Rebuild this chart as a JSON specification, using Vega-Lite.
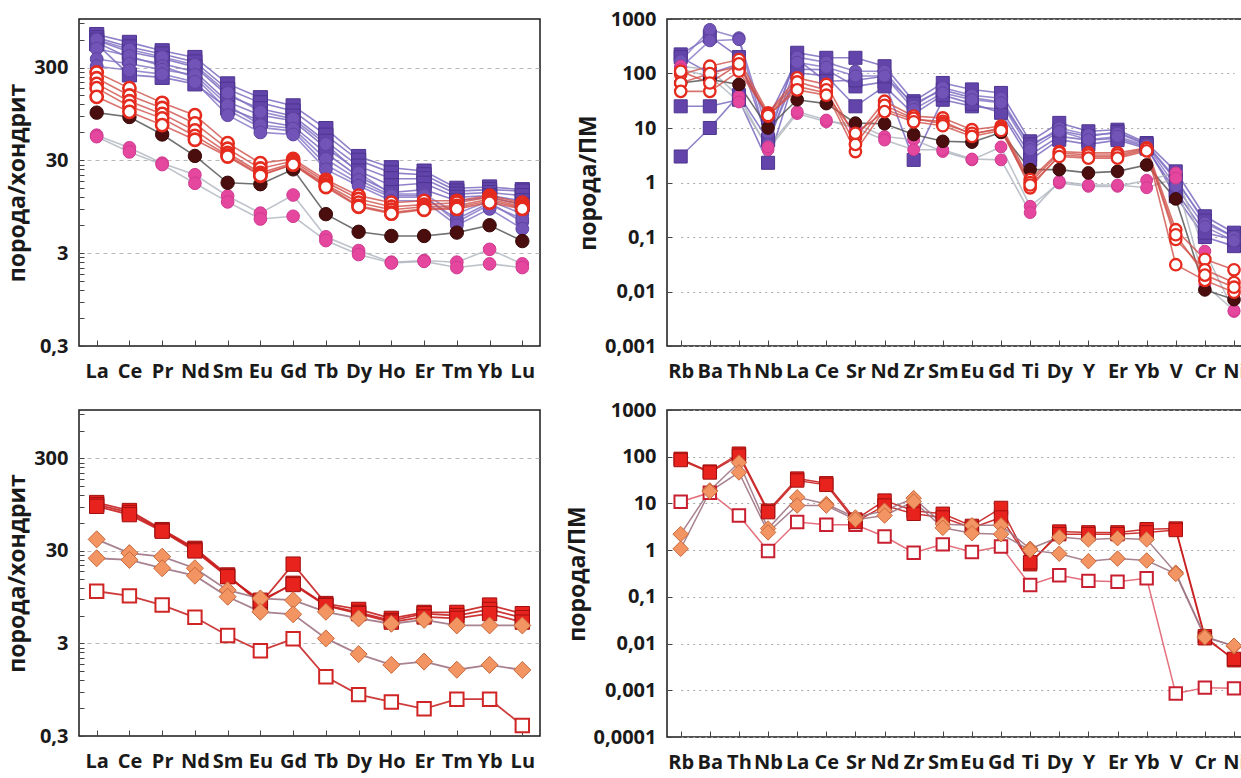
{
"$schema": "https://vega.github.io/schema/vega-lite/v6.json",
"background": "#ffffff",
"padding": {"left": 5, "top": 8, "right": 0, "bottom": 0},
"autosize": {"type": "pad"},
"config": {
  "view": {"stroke": "#1a1a1a", "strokeWidth": 1.5},
  "axis": {"labelFont": "Open Sans", "labelFontWeight": "bold", "labelColor": "#1a1a1a", "titleFont": "Open Sans", "titleFontWeight": "bold", "titleColor": "#1a1a1a", "tickColor": "#444444", "domain": false, "labelOverlap": false}
},
"resolve": {"scale": {"color": "independent", "fill": "independent", "stroke": "independent", "shape": "independent", "size": "independent", "strokeWidth": "independent", "x": "independent", "y": "independent"}},
"datasets": {
"tl": [
{"s":"Q1","g":"sq","e":"La","v":680},{"s":"Q1","g":"sq","e":"Ce","v":560},{"s":"Q1","g":"sq","e":"Pr","v":455},{"s":"Q1","g":"sq","e":"Nd","v":385},{"s":"Q1","g":"sq","e":"Sm","v":200},{"s":"Q1","g":"sq","e":"Eu","v":142},{"s":"Q1","g":"sq","e":"Gd","v":116},{"s":"Q1","g":"sq","e":"Tb","v":66},{"s":"Q1","g":"sq","e":"Dy","v":33},{"s":"Q1","g":"sq","e":"Ho","v":25},{"s":"Q1","g":"sq","e":"Er","v":23},{"s":"Q1","g":"sq","e":"Tm","v":15},{"s":"Q1","g":"sq","e":"Yb","v":15.5},{"s":"Q1","g":"sq","e":"Lu","v":14.5},
{"s":"Q2","g":"sq","e":"La","v":630},{"s":"Q2","g":"sq","e":"Ce","v":500},{"s":"Q2","g":"sq","e":"Pr","v":420},{"s":"Q2","g":"sq","e":"Nd","v":345},{"s":"Q2","g":"sq","e":"Sm","v":175},{"s":"Q2","g":"sq","e":"Eu","v":125},{"s":"Q2","g":"sq","e":"Gd","v":102},{"s":"Q2","g":"sq","e":"Tb","v":56},{"s":"Q2","g":"sq","e":"Dy","v":30},{"s":"Q2","g":"sq","e":"Ho","v":22},{"s":"Q2","g":"sq","e":"Er","v":21},{"s":"Q2","g":"sq","e":"Tm","v":14},{"s":"Q2","g":"sq","e":"Yb","v":14.5},{"s":"Q2","g":"sq","e":"Lu","v":14},
{"s":"Q3","g":"sq","e":"La","v":590},{"s":"Q3","g":"sq","e":"Ce","v":440},{"s":"Q3","g":"sq","e":"Pr","v":375},{"s":"Q3","g":"sq","e":"Nd","v":305},{"s":"Q3","g":"sq","e":"Sm","v":150},{"s":"Q3","g":"sq","e":"Eu","v":108},{"s":"Q3","g":"sq","e":"Gd","v":90},{"s":"Q3","g":"sq","e":"Tb","v":48},{"s":"Q3","g":"sq","e":"Dy","v":26},{"s":"Q3","g":"sq","e":"Ho","v":19},{"s":"Q3","g":"sq","e":"Er","v":19},{"s":"Q3","g":"sq","e":"Tm","v":13},{"s":"Q3","g":"sq","e":"Yb","v":13.5},{"s":"Q3","g":"sq","e":"Lu","v":12.5},
{"s":"Q4","g":"sq","e":"La","v":560},{"s":"Q4","g":"sq","e":"Ce","v":380},{"s":"Q4","g":"sq","e":"Pr","v":330},{"s":"Q4","g":"sq","e":"Nd","v":270},{"s":"Q4","g":"sq","e":"Sm","v":128},{"s":"Q4","g":"sq","e":"Eu","v":92},{"s":"Q4","g":"sq","e":"Gd","v":80},{"s":"Q4","g":"sq","e":"Tb","v":41},{"s":"Q4","g":"sq","e":"Dy","v":23},{"s":"Q4","g":"sq","e":"Ho","v":16},{"s":"Q4","g":"sq","e":"Er","v":17},{"s":"Q4","g":"sq","e":"Tm","v":12},{"s":"Q4","g":"sq","e":"Yb","v":12.5},{"s":"Q4","g":"sq","e":"Lu","v":11},
{"s":"Q5","g":"sq","e":"La","v":540},{"s":"Q5","g":"sq","e":"Ce","v":250},{"s":"Q5","g":"sq","e":"Pr","v":235},{"s":"Q5","g":"sq","e":"Nd","v":200},{"s":"Q5","g":"sq","e":"Sm","v":110},{"s":"Q5","g":"sq","e":"Eu","v":80},{"s":"Q5","g":"sq","e":"Gd","v":70},{"s":"Q5","g":"sq","e":"Tb","v":36},{"s":"Q5","g":"sq","e":"Dy","v":20},{"s":"Q5","g":"sq","e":"Ho","v":13.5},{"s":"Q5","g":"sq","e":"Er","v":14.5},{"s":"Q5","g":"sq","e":"Tm","v":11},{"s":"Q5","g":"sq","e":"Yb","v":12},{"s":"Q5","g":"sq","e":"Lu","v":10},
{"s":"K1","g":"ci","e":"La","v":600},{"s":"K1","g":"ci","e":"Ce","v":470},{"s":"K1","g":"ci","e":"Pr","v":390},{"s":"K1","g":"ci","e":"Nd","v":320},{"s":"K1","g":"ci","e":"Sm","v":160},{"s":"K1","g":"ci","e":"Eu","v":100},{"s":"K1","g":"ci","e":"Gd","v":84},{"s":"K1","g":"ci","e":"Tb","v":45},{"s":"K1","g":"ci","e":"Dy","v":22},{"s":"K1","g":"ci","e":"Ho","v":13},{"s":"K1","g":"ci","e":"Er","v":13},{"s":"K1","g":"ci","e":"Tm","v":8},{"s":"K1","g":"ci","e":"Yb","v":11},{"s":"K1","g":"ci","e":"Lu","v":8},
{"s":"K2","g":"ci","e":"La","v":480},{"s":"K2","g":"ci","e":"Ce","v":400},{"s":"K2","g":"ci","e":"Pr","v":310},{"s":"K2","g":"ci","e":"Nd","v":235},{"s":"K2","g":"ci","e":"Sm","v":105},{"s":"K2","g":"ci","e":"Eu","v":68},{"s":"K2","g":"ci","e":"Gd","v":62},{"s":"K2","g":"ci","e":"Tb","v":27},{"s":"K2","g":"ci","e":"Dy","v":17},{"s":"K2","g":"ci","e":"Ho","v":12},{"s":"K2","g":"ci","e":"Er","v":12},{"s":"K2","g":"ci","e":"Tm","v":7},{"s":"K2","g":"ci","e":"Yb","v":10.5},{"s":"K2","g":"ci","e":"Lu","v":6.5},
{"s":"K3","g":"ci","e":"La","v":370},{"s":"K3","g":"ci","e":"Ce","v":330},{"s":"K3","g":"ci","e":"Pr","v":285},{"s":"K3","g":"ci","e":"Nd","v":250},{"s":"K3","g":"ci","e":"Sm","v":118},{"s":"K3","g":"ci","e":"Eu","v":72},{"s":"K3","g":"ci","e":"Gd","v":66},{"s":"K3","g":"ci","e":"Tb","v":31},{"s":"K3","g":"ci","e":"Dy","v":18.5},{"s":"K3","g":"ci","e":"Ho","v":12.5},{"s":"K3","g":"ci","e":"Er","v":12.5},{"s":"K3","g":"ci","e":"Tm","v":6.5},{"s":"K3","g":"ci","e":"Yb","v":10},{"s":"K3","g":"ci","e":"Lu","v":7},
{"s":"K4","g":"ci","e":"La","v":310},{"s":"K4","g":"ci","e":"Ce","v":280},{"s":"K4","g":"ci","e":"Pr","v":255},{"s":"K4","g":"ci","e":"Nd","v":210},{"s":"K4","g":"ci","e":"Sm","v":92},{"s":"K4","g":"ci","e":"Eu","v":60},{"s":"K4","g":"ci","e":"Gd","v":57},{"s":"K4","g":"ci","e":"Tb","v":24},{"s":"K4","g":"ci","e":"Dy","v":16},{"s":"K4","g":"ci","e":"Ho","v":11},{"s":"K4","g":"ci","e":"Er","v":11},{"s":"K4","g":"ci","e":"Tm","v":6},{"s":"K4","g":"ci","e":"Yb","v":9},{"s":"K4","g":"ci","e":"Lu","v":5.5},
{"s":"N1","g":"pk","e":"La","v":56},{"s":"N1","g":"pk","e":"Ce","v":41},{"s":"N1","g":"pk","e":"Pr","v":28},{"s":"N1","g":"pk","e":"Nd","v":21},{"s":"N1","g":"pk","e":"Sm","v":12.4},{"s":"N1","g":"pk","e":"Eu","v":8.1},{"s":"N1","g":"pk","e":"Gd","v":12.7},{"s":"N1","g":"pk","e":"Tb","v":4.5},{"s":"N1","g":"pk","e":"Dy","v":3.2},{"s":"N1","g":"pk","e":"Ho","v":2.4},{"s":"N1","g":"pk","e":"Er","v":2.5},{"s":"N1","g":"pk","e":"Tm","v":2.4},{"s":"N1","g":"pk","e":"Yb","v":3.3},{"s":"N1","g":"pk","e":"Lu","v":2.3},
{"s":"N2","g":"pk","e":"La","v":54},{"s":"N2","g":"pk","e":"Ce","v":37},{"s":"N2","g":"pk","e":"Pr","v":27},{"s":"N2","g":"pk","e":"Nd","v":17},{"s":"N2","g":"pk","e":"Sm","v":10.7},{"s":"N2","g":"pk","e":"Eu","v":7.0},{"s":"N2","g":"pk","e":"Gd","v":7.5},{"s":"N2","g":"pk","e":"Tb","v":4.1},{"s":"N2","g":"pk","e":"Dy","v":2.9},{"s":"N2","g":"pk","e":"Ho","v":2.35},{"s":"N2","g":"pk","e":"Er","v":2.45},{"s":"N2","g":"pk","e":"Tm","v":2.1},{"s":"N2","g":"pk","e":"Yb","v":2.3},{"s":"N2","g":"pk","e":"Lu","v":2.1},
{"s":"B1","g":"br","e":"La","v":98},{"s":"B1","g":"br","e":"Ce","v":88},{"s":"B1","g":"br","e":"Pr","v":57},{"s":"B1","g":"br","e":"Nd","v":33.5},{"s":"B1","g":"br","e":"Sm","v":17.2},{"s":"B1","g":"br","e":"Eu","v":16.6},{"s":"B1","g":"br","e":"Gd","v":24},{"s":"B1","g":"br","e":"Tb","v":7.9},{"s":"B1","g":"br","e":"Dy","v":5.1},{"s":"B1","g":"br","e":"Ho","v":4.6},{"s":"B1","g":"br","e":"Er","v":4.6},{"s":"B1","g":"br","e":"Tm","v":5.0},{"s":"B1","g":"br","e":"Yb","v":6.0},{"s":"B1","g":"br","e":"Lu","v":4.05},
{"s":"R1","g":"ro","e":"La","v":265},{"s":"R1","g":"ro","e":"Ce","v":180},{"s":"R1","g":"ro","e":"Pr","v":125},{"s":"R1","g":"ro","e":"Nd","v":92},{"s":"R1","g":"ro","e":"Sm","v":46},{"s":"R1","g":"ro","e":"Eu","v":28},{"s":"R1","g":"ro","e":"Gd","v":31},{"s":"R1","g":"ro","e":"Tb","v":18.5},{"s":"R1","g":"ro","e":"Dy","v":12.5},{"s":"R1","g":"ro","e":"Ho","v":10.5},{"s":"R1","g":"ro","e":"Er","v":11},{"s":"R1","g":"ro","e":"Tm","v":11},{"s":"R1","g":"ro","e":"Yb","v":12.5},{"s":"R1","g":"ro","e":"Lu","v":10.5},
{"s":"R2","g":"ro","e":"La","v":230},{"s":"R2","g":"ro","e":"Ce","v":150},{"s":"R2","g":"ro","e":"Pr","v":110},{"s":"R2","g":"ro","e":"Nd","v":75},{"s":"R2","g":"ro","e":"Sm","v":40},{"s":"R2","g":"ro","e":"Eu","v":24.5},{"s":"R2","g":"ro","e":"Gd","v":29.5},{"s":"R2","g":"ro","e":"Tb","v":17.5},{"s":"R2","g":"ro","e":"Dy","v":11.5},{"s":"R2","g":"ro","e":"Ho","v":9.5},{"s":"R2","g":"ro","e":"Er","v":10},{"s":"R2","g":"ro","e":"Tm","v":10.5},{"s":"R2","g":"ro","e":"Yb","v":12},{"s":"R2","g":"ro","e":"Lu","v":10},
{"s":"R3","g":"ro","e":"La","v":200},{"s":"R3","g":"ro","e":"Ce","v":130},{"s":"R3","g":"ro","e":"Pr","v":95},{"s":"R3","g":"ro","e":"Nd","v":63},{"s":"R3","g":"ro","e":"Sm","v":36},{"s":"R3","g":"ro","e":"Eu","v":22},{"s":"R3","g":"ro","e":"Gd","v":28},{"s":"R3","g":"ro","e":"Tb","v":16.5},{"s":"R3","g":"ro","e":"Dy","v":10.5},{"s":"R3","g":"ro","e":"Ho","v":8.8},{"s":"R3","g":"ro","e":"Er","v":9.5},{"s":"R3","g":"ro","e":"Tm","v":9.7},{"s":"R3","g":"ro","e":"Yb","v":11.5},{"s":"R3","g":"ro","e":"Lu","v":9.5},
{"s":"R4","g":"ro","e":"La","v":180},{"s":"R4","g":"ro","e":"Ce","v":115},{"s":"R4","g":"ro","e":"Pr","v":85},{"s":"R4","g":"ro","e":"Nd","v":55},{"s":"R4","g":"ro","e":"Sm","v":34},{"s":"R4","g":"ro","e":"Eu","v":21},{"s":"R4","g":"ro","e":"Gd","v":27},{"s":"R4","g":"ro","e":"Tb","v":16},{"s":"R4","g":"ro","e":"Dy","v":9.7},{"s":"R4","g":"ro","e":"Ho","v":8.2},{"s":"R4","g":"ro","e":"Er","v":9},{"s":"R4","g":"ro","e":"Tm","v":9.3},{"s":"R4","g":"ro","e":"Yb","v":11},{"s":"R4","g":"ro","e":"Lu","v":9.2},
{"s":"R5","g":"ro","e":"La","v":145},{"s":"R5","g":"ro","e":"Ce","v":100},{"s":"R5","g":"ro","e":"Pr","v":72},{"s":"R5","g":"ro","e":"Nd","v":50},{"s":"R5","g":"ro","e":"Sm","v":33},{"s":"R5","g":"ro","e":"Eu","v":20.5},{"s":"R5","g":"ro","e":"Gd","v":27},{"s":"R5","g":"ro","e":"Tb","v":15.5},{"s":"R5","g":"ro","e":"Dy","v":9.5},{"s":"R5","g":"ro","e":"Ho","v":8},{"s":"R5","g":"ro","e":"Er","v":8.8},{"s":"R5","g":"ro","e":"Tm","v":9},{"s":"R5","g":"ro","e":"Yb","v":10.5},{"s":"R5","g":"ro","e":"Lu","v":9}
],
"tr": [
{"s":"P1","g":"sq","e":"Rb","v":224},{"s":"P1","g":"sq","e":"Ba","v":480},{"s":"P1","g":"sq","e":"Th","v":200},{"s":"P1","g":"sq","e":"Nb","v":6},{"s":"P1","g":"sq","e":"La","v":240},{"s":"P1","g":"sq","e":"Ce","v":194},{"s":"P1","g":"sq","e":"Sr","v":194},{"s":"P1","g":"sq","e":"Nd","v":136},{"s":"P1","g":"sq","e":"Zr","v":31},{"s":"P1","g":"sq","e":"Sm","v":67},{"s":"P1","g":"sq","e":"Eu","v":51},{"s":"P1","g":"sq","e":"Gd","v":44},{"s":"P1","g":"sq","e":"Ti","v":5.7},{"s":"P1","g":"sq","e":"Dy","v":12.4},{"s":"P1","g":"sq","e":"Y","v":8.7},{"s":"P1","g":"sq","e":"Er","v":9.3},{"s":"P1","g":"sq","e":"Yb","v":5.3},{"s":"P1","g":"sq","e":"V","v":1.6},{"s":"P1","g":"sq","e":"Cr","v":0.24},{"s":"P1","g":"sq","e":"Ni","v":0.12},
{"s":"P4","g":"sq","e":"Rb","v":25},{"s":"P4","g":"sq","e":"Ba","v":25},{"s":"P4","g":"sq","e":"Th","v":33},{"s":"P4","g":"sq","e":"Nb","v":2.3},{"s":"P4","g":"sq","e":"La","v":120},{"s":"P4","g":"sq","e":"Ce","v":118},{"s":"P4","g":"sq","e":"Sr","v":58},{"s":"P4","g":"sq","e":"Nd","v":70},{"s":"P4","g":"sq","e":"Zr","v":2.6},{"s":"P4","g":"sq","e":"Sm","v":33},{"s":"P4","g":"sq","e":"Eu","v":25},{"s":"P4","g":"sq","e":"Gd","v":22},{"s":"P4","g":"sq","e":"Ti","v":3.2},{"s":"P4","g":"sq","e":"Dy","v":7},{"s":"P4","g":"sq","e":"Y","v":6},{"s":"P4","g":"sq","e":"Er","v":6.5},{"s":"P4","g":"sq","e":"Yb","v":4.5},{"s":"P4","g":"sq","e":"V","v":0.56},{"s":"P4","g":"sq","e":"Cr","v":0.1},{"s":"P4","g":"sq","e":"Ni","v":0.068},
{"s":"P5","g":"sq","e":"Rb","v":3},{"s":"P5","g":"sq","e":"Ba","v":10},{"s":"P5","g":"sq","e":"Th","v":40},{"s":"P5","g":"sq","e":"Nb","v":6},{"s":"P5","g":"sq","e":"La","v":103},{"s":"P5","g":"sq","e":"Ce","v":90},{"s":"P5","g":"sq","e":"Sr","v":25},{"s":"P5","g":"sq","e":"Nd","v":58},{"s":"P5","g":"sq","e":"Zr","v":18},{"s":"P5","g":"sq","e":"Sm","v":40},{"s":"P5","g":"sq","e":"Eu","v":28},{"s":"P5","g":"sq","e":"Gd","v":19},{"s":"P5","g":"sq","e":"Ti","v":2.6},{"s":"P5","g":"sq","e":"Dy","v":6.1},{"s":"P5","g":"sq","e":"Y","v":5},{"s":"P5","g":"sq","e":"Er","v":6},{"s":"P5","g":"sq","e":"Yb","v":4.2},{"s":"P5","g":"sq","e":"V","v":0.7},{"s":"P5","g":"sq","e":"Cr","v":0.12},{"s":"P5","g":"sq","e":"Ni","v":0.09},
{"s":"P6","g":"sq","e":"Rb","v":200},{"s":"P6","g":"sq","e":"Ba","v":100},{"s":"P6","g":"sq","e":"Th","v":150},{"s":"P6","g":"sq","e":"Nb","v":15},{"s":"P6","g":"sq","e":"La","v":180},{"s":"P6","g":"sq","e":"Ce","v":72},{"s":"P6","g":"sq","e":"Sr","v":75},{"s":"P6","g":"sq","e":"Nd","v":89},{"s":"P6","g":"sq","e":"Zr","v":28},{"s":"P6","g":"sq","e":"Sm","v":50},{"s":"P6","g":"sq","e":"Eu","v":36},{"s":"P6","g":"sq","e":"Gd","v":30},{"s":"P6","g":"sq","e":"Ti","v":5},{"s":"P6","g":"sq","e":"Dy","v":9},{"s":"P6","g":"sq","e":"Y","v":7},{"s":"P6","g":"sq","e":"Er","v":8.5},{"s":"P6","g":"sq","e":"Yb","v":5},{"s":"P6","g":"sq","e":"V","v":1.1},{"s":"P6","g":"sq","e":"Cr","v":0.2},{"s":"P6","g":"sq","e":"Ni","v":0.1},
{"s":"P2","g":"ci","e":"Rb","v":170},{"s":"P2","g":"ci","e":"Ba","v":640},{"s":"P2","g":"ci","e":"Th","v":450},{"s":"P2","g":"ci","e":"Nb","v":8},{"s":"P2","g":"ci","e":"La","v":200},{"s":"P2","g":"ci","e":"Ce","v":160},{"s":"P2","g":"ci","e":"Sr","v":110},{"s":"P2","g":"ci","e":"Nd","v":110},{"s":"P2","g":"ci","e":"Zr","v":25},{"s":"P2","g":"ci","e":"Sm","v":55},{"s":"P2","g":"ci","e":"Eu","v":40},{"s":"P2","g":"ci","e":"Gd","v":35},{"s":"P2","g":"ci","e":"Ti","v":4.5},{"s":"P2","g":"ci","e":"Dy","v":10},{"s":"P2","g":"ci","e":"Y","v":7.5},{"s":"P2","g":"ci","e":"Er","v":8},{"s":"P2","g":"ci","e":"Yb","v":5},{"s":"P2","g":"ci","e":"V","v":1.2},{"s":"P2","g":"ci","e":"Cr","v":0.18},{"s":"P2","g":"ci","e":"Ni","v":0.1},
{"s":"P3","g":"ci","e":"Rb","v":130},{"s":"P3","g":"ci","e":"Ba","v":400},{"s":"P3","g":"ci","e":"Th","v":420},{"s":"P3","g":"ci","e":"Nb","v":5},{"s":"P3","g":"ci","e":"La","v":160},{"s":"P3","g":"ci","e":"Ce","v":130},{"s":"P3","g":"ci","e":"Sr","v":90},{"s":"P3","g":"ci","e":"Nd","v":90},{"s":"P3","g":"ci","e":"Zr","v":22},{"s":"P3","g":"ci","e":"Sm","v":44},{"s":"P3","g":"ci","e":"Eu","v":33},{"s":"P3","g":"ci","e":"Gd","v":29},{"s":"P3","g":"ci","e":"Ti","v":4},{"s":"P3","g":"ci","e":"Dy","v":8.7},{"s":"P3","g":"ci","e":"Y","v":6.1},{"s":"P3","g":"ci","e":"Er","v":7},{"s":"P3","g":"ci","e":"Yb","v":4.8},{"s":"P3","g":"ci","e":"V","v":0.85},{"s":"P3","g":"ci","e":"Cr","v":0.155},{"s":"P3","g":"ci","e":"Ni","v":0.085},
{"s":"N1","g":"pk","e":"Rb","v":136},{"s":"N1","g":"pk","e":"Ba","v":118},{"s":"N1","g":"pk","e":"Th","v":38},{"s":"N1","g":"pk","e":"Nb","v":4},{"s":"N1","g":"pk","e":"La","v":18.4},{"s":"N1","g":"pk","e":"Ce","v":13},{"s":"N1","g":"pk","e":"Sr","v":12},{"s":"N1","g":"pk","e":"Nd","v":7},{"s":"N1","g":"pk","e":"Zr","v":6.1},{"s":"N1","g":"pk","e":"Sm","v":3.7},{"s":"N1","g":"pk","e":"Eu","v":2.6},{"s":"N1","g":"pk","e":"Gd","v":4.5},{"s":"N1","g":"pk","e":"Ti","v":0.366},{"s":"N1","g":"pk","e":"Dy","v":0.98},{"s":"N1","g":"pk","e":"Y","v":0.85},{"s":"N1","g":"pk","e":"Er","v":0.85},{"s":"N1","g":"pk","e":"Yb","v":1.1},{"s":"N1","g":"pk","e":"V","v":1.5},{"s":"N1","g":"pk","e":"Cr","v":0.055},{"s":"N1","g":"pk","e":"Ni","v":0.0043},
{"s":"N2","g":"pk","e":"Rb","v":120},{"s":"N2","g":"pk","e":"Ba","v":89},{"s":"N2","g":"pk","e":"Th","v":30},{"s":"N2","g":"pk","e":"Nb","v":4.5},{"s":"N2","g":"pk","e":"La","v":20},{"s":"N2","g":"pk","e":"Ce","v":14},{"s":"N2","g":"pk","e":"Sr","v":10},{"s":"N2","g":"pk","e":"Nd","v":6},{"s":"N2","g":"pk","e":"Zr","v":4},{"s":"N2","g":"pk","e":"Sm","v":4},{"s":"N2","g":"pk","e":"Eu","v":2.7},{"s":"N2","g":"pk","e":"Gd","v":2.6},{"s":"N2","g":"pk","e":"Ti","v":0.28},{"s":"N2","g":"pk","e":"Dy","v":1.05},{"s":"N2","g":"pk","e":"Y","v":0.9},{"s":"N2","g":"pk","e":"Er","v":0.9},{"s":"N2","g":"pk","e":"Yb","v":0.8},{"s":"N2","g":"pk","e":"V","v":1.2},{"s":"N2","g":"pk","e":"Cr","v":0.0133},{"s":"N2","g":"pk","e":"Ni","v":0.0045},
{"s":"B1","g":"br","e":"Rb","v":67},{"s":"B1","g":"br","e":"Ba","v":78},{"s":"B1","g":"br","e":"Th","v":63},{"s":"B1","g":"br","e":"Nb","v":10},{"s":"B1","g":"br","e":"La","v":33},{"s":"B1","g":"br","e":"Ce","v":28},{"s":"B1","g":"br","e":"Sr","v":12.3},{"s":"B1","g":"br","e":"Nd","v":12},{"s":"B1","g":"br","e":"Zr","v":7.6},{"s":"B1","g":"br","e":"Sm","v":5.7},{"s":"B1","g":"br","e":"Eu","v":5.5},{"s":"B1","g":"br","e":"Gd","v":8.3},{"s":"B1","g":"br","e":"Ti","v":1.72},{"s":"B1","g":"br","e":"Dy","v":1.72},{"s":"B1","g":"br","e":"Y","v":1.5},{"s":"B1","g":"br","e":"Er","v":1.6},{"s":"B1","g":"br","e":"Yb","v":2.1},{"s":"B1","g":"br","e":"V","v":0.5},{"s":"B1","g":"br","e":"Cr","v":0.0107},{"s":"B1","g":"br","e":"Ni","v":0.0071},
{"s":"R1","g":"ro","e":"Rb","v":96},{"s":"R1","g":"ro","e":"Ba","v":136},{"s":"R1","g":"ro","e":"Th","v":180},{"s":"R1","g":"ro","e":"Nb","v":19},{"s":"R1","g":"ro","e":"La","v":83},{"s":"R1","g":"ro","e":"Ce","v":63},{"s":"R1","g":"ro","e":"Sr","v":6.6},{"s":"R1","g":"ro","e":"Nd","v":31},{"s":"R1","g":"ro","e":"Zr","v":16.5},{"s":"R1","g":"ro","e":"Sm","v":15.3},{"s":"R1","g":"ro","e":"Eu","v":9.3},{"s":"R1","g":"ro","e":"Gd","v":10.8},{"s":"R1","g":"ro","e":"Ti","v":1.13},{"s":"R1","g":"ro","e":"Dy","v":3.7},{"s":"R1","g":"ro","e":"Y","v":3.5},{"s":"R1","g":"ro","e":"Er","v":3.5},{"s":"R1","g":"ro","e":"Yb","v":4.3},{"s":"R1","g":"ro","e":"V","v":0.136},{"s":"R1","g":"ro","e":"Cr","v":0.039},{"s":"R1","g":"ro","e":"Ni","v":0.025},
{"s":"R2","g":"ro","e":"Rb","v":67},{"s":"R2","g":"ro","e":"Ba","v":100},{"s":"R2","g":"ro","e":"Th","v":136},{"s":"R2","g":"ro","e":"Nb","v":16.5},{"s":"R2","g":"ro","e":"La","v":58},{"s":"R2","g":"ro","e":"Ce","v":44},{"s":"R2","g":"ro","e":"Sr","v":3.7},{"s":"R2","g":"ro","e":"Nd","v":22},{"s":"R2","g":"ro","e":"Zr","v":14.3},{"s":"R2","g":"ro","e":"Sm","v":13.3},{"s":"R2","g":"ro","e":"Eu","v":7.6},{"s":"R2","g":"ro","e":"Gd","v":10},{"s":"R2","g":"ro","e":"Ti","v":0.8},{"s":"R2","g":"ro","e":"Dy","v":3.2},{"s":"R2","g":"ro","e":"Y","v":3.0},{"s":"R2","g":"ro","e":"Er","v":3.0},{"s":"R2","g":"ro","e":"Yb","v":4.0},{"s":"R2","g":"ro","e":"V","v":0.09},{"s":"R2","g":"ro","e":"Cr","v":0.025},{"s":"R2","g":"ro","e":"Ni","v":0.0146},
{"s":"R3","g":"ro","e":"Rb","v":47},{"s":"R3","g":"ro","e":"Ba","v":47},{"s":"R3","g":"ro","e":"Th","v":110},{"s":"R3","g":"ro","e":"Nb","v":18},{"s":"R3","g":"ro","e":"La","v":70},{"s":"R3","g":"ro","e":"Ce","v":50},{"s":"R3","g":"ro","e":"Sr","v":5},{"s":"R3","g":"ro","e":"Nd","v":26},{"s":"R3","g":"ro","e":"Zr","v":15},{"s":"R3","g":"ro","e":"Sm","v":12},{"s":"R3","g":"ro","e":"Eu","v":8},{"s":"R3","g":"ro","e":"Gd","v":9.5},{"s":"R3","g":"ro","e":"Ti","v":1.0},{"s":"R3","g":"ro","e":"Dy","v":3.5},{"s":"R3","g":"ro","e":"Y","v":3.2},{"s":"R3","g":"ro","e":"Er","v":3.2},{"s":"R3","g":"ro","e":"Yb","v":4.2},{"s":"R3","g":"ro","e":"V","v":0.031},{"s":"R3","g":"ro","e":"Cr","v":0.016},{"s":"R3","g":"ro","e":"Ni","v":0.0097},
{"s":"R4","g":"ro","e":"Rb","v":110},{"s":"R4","g":"ro","e":"Ba","v":67},{"s":"R4","g":"ro","e":"Th","v":150},{"s":"R4","g":"ro","e":"Nb","v":17},{"s":"R4","g":"ro","e":"La","v":50},{"s":"R4","g":"ro","e":"Ce","v":40},{"s":"R4","g":"ro","e":"Sr","v":8},{"s":"R4","g":"ro","e":"Nd","v":20},{"s":"R4","g":"ro","e":"Zr","v":13},{"s":"R4","g":"ro","e":"Sm","v":11},{"s":"R4","g":"ro","e":"Eu","v":7},{"s":"R4","g":"ro","e":"Gd","v":9},{"s":"R4","g":"ro","e":"Ti","v":0.9},{"s":"R4","g":"ro","e":"Dy","v":3},{"s":"R4","g":"ro","e":"Y","v":2.8},{"s":"R4","g":"ro","e":"Er","v":2.8},{"s":"R4","g":"ro","e":"Yb","v":3.8},{"s":"R4","g":"ro","e":"V","v":0.11},{"s":"R4","g":"ro","e":"Cr","v":0.02},{"s":"R4","g":"ro","e":"Ni","v":0.012}
],
"bl": [
{"s":"O1","g":"os","e":"La","v":11},{"s":"O1","g":"os","e":"Ce","v":9.8},{"s":"O1","g":"os","e":"Pr","v":7.8},{"s":"O1","g":"os","e":"Nd","v":5.75},{"s":"O1","g":"os","e":"Sm","v":3.66},{"s":"O1","g":"os","e":"Eu","v":2.5},{"s":"O1","g":"os","e":"Gd","v":3.37},{"s":"O1","g":"os","e":"Tb","v":1.31},{"s":"O1","g":"os","e":"Dy","v":0.84},{"s":"O1","g":"os","e":"Ho","v":0.7},{"s":"O1","g":"os","e":"Er","v":0.59},{"s":"O1","g":"os","e":"Tm","v":0.75},{"s":"O1","g":"os","e":"Yb","v":0.75},{"s":"O1","g":"os","e":"Lu","v":0.39},
{"s":"F1","g":"fs","e":"La","v":100},{"s":"F1","g":"fs","e":"Ce","v":82},{"s":"F1","g":"fs","e":"Pr","v":51},{"s":"F1","g":"fs","e":"Nd","v":32},{"s":"F1","g":"fs","e":"Sm","v":16.5},{"s":"F1","g":"fs","e":"Eu","v":8.1},{"s":"F1","g":"fs","e":"Gd","v":21.6},{"s":"F1","g":"fs","e":"Tb","v":8.1},{"s":"F1","g":"fs","e":"Dy","v":7.0},{"s":"F1","g":"fs","e":"Ho","v":5.6},{"s":"F1","g":"fs","e":"Er","v":6.5},{"s":"F1","g":"fs","e":"Tm","v":6.5},{"s":"F1","g":"fs","e":"Yb","v":7.8},{"s":"F1","g":"fs","e":"Lu","v":6.3},
{"s":"F2","g":"fs","e":"La","v":95},{"s":"F2","g":"fs","e":"Ce","v":78},{"s":"F2","g":"fs","e":"Pr","v":50},{"s":"F2","g":"fs","e":"Nd","v":31},{"s":"F2","g":"fs","e":"Sm","v":16},{"s":"F2","g":"fs","e":"Eu","v":8.4},{"s":"F2","g":"fs","e":"Gd","v":13.4},{"s":"F2","g":"fs","e":"Tb","v":7.8},{"s":"F2","g":"fs","e":"Dy","v":6.5},{"s":"F2","g":"fs","e":"Ho","v":5.3},{"s":"F2","g":"fs","e":"Er","v":6.3},{"s":"F2","g":"fs","e":"Tm","v":6.0},{"s":"F2","g":"fs","e":"Yb","v":7.0},{"s":"F2","g":"fs","e":"Lu","v":5.7},
{"s":"F3","g":"fs","e":"La","v":91},{"s":"F3","g":"fs","e":"Ce","v":74},{"s":"F3","g":"fs","e":"Pr","v":49},{"s":"F3","g":"fs","e":"Nd","v":30},{"s":"F3","g":"fs","e":"Sm","v":15.8},{"s":"F3","g":"fs","e":"Eu","v":8.8},{"s":"F3","g":"fs","e":"Gd","v":13.0},{"s":"F3","g":"fs","e":"Tb","v":7.7},{"s":"F3","g":"fs","e":"Dy","v":6.3},{"s":"F3","g":"fs","e":"Ho","v":5.1},{"s":"F3","g":"fs","e":"Er","v":5.8},{"s":"F3","g":"fs","e":"Tm","v":5.6},{"s":"F3","g":"fs","e":"Yb","v":6.3},{"s":"F3","g":"fs","e":"Lu","v":5.1},
{"s":"D1","g":"dm","e":"La","v":40},{"s":"D1","g":"dm","e":"Ce","v":28.4},{"s":"D1","g":"dm","e":"Pr","v":26},{"s":"D1","g":"dm","e":"Nd","v":19.5},{"s":"D1","g":"dm","e":"Sm","v":11.3},{"s":"D1","g":"dm","e":"Eu","v":9.2},{"s":"D1","g":"dm","e":"Gd","v":8.8},{"s":"D1","g":"dm","e":"Tb","v":6.6},{"s":"D1","g":"dm","e":"Dy","v":5.6},{"s":"D1","g":"dm","e":"Ho","v":4.9},{"s":"D1","g":"dm","e":"Er","v":5.4},{"s":"D1","g":"dm","e":"Tm","v":4.7},{"s":"D1","g":"dm","e":"Yb","v":4.7},{"s":"D1","g":"dm","e":"Lu","v":4.7},
{"s":"D2","g":"dm","e":"La","v":25},{"s":"D2","g":"dm","e":"Ce","v":24},{"s":"D2","g":"dm","e":"Pr","v":19.5},{"s":"D2","g":"dm","e":"Nd","v":16.2},{"s":"D2","g":"dm","e":"Sm","v":9.6},{"s":"D2","g":"dm","e":"Eu","v":6.6},{"s":"D2","g":"dm","e":"Gd","v":6.2},{"s":"D2","g":"dm","e":"Tb","v":3.4},{"s":"D2","g":"dm","e":"Dy","v":2.3},{"s":"D2","g":"dm","e":"Ho","v":1.76},{"s":"D2","g":"dm","e":"Er","v":1.91},{"s":"D2","g":"dm","e":"Tm","v":1.56},{"s":"D2","g":"dm","e":"Yb","v":1.76},{"s":"D2","g":"dm","e":"Lu","v":1.55}
],
"br": [
{"s":"O1","g":"os","e":"Rb","v":10.9},{"s":"O1","g":"os","e":"Ba","v":17},{"s":"O1","g":"os","e":"Th","v":5.5},{"s":"O1","g":"os","e":"Nb","v":0.96},{"s":"O1","g":"os","e":"La","v":4},{"s":"O1","g":"os","e":"Ce","v":3.5},{"s":"O1","g":"os","e":"Sr","v":3.5},{"s":"O1","g":"os","e":"Nd","v":1.96},{"s":"O1","g":"os","e":"Zr","v":0.88},{"s":"O1","g":"os","e":"Sm","v":1.33},{"s":"O1","g":"os","e":"Eu","v":0.91},{"s":"O1","g":"os","e":"Gd","v":1.2},{"s":"O1","g":"os","e":"Ti","v":0.18},{"s":"O1","g":"os","e":"Dy","v":0.29},{"s":"O1","g":"os","e":"Y","v":0.22},{"s":"O1","g":"os","e":"Er","v":0.21},{"s":"O1","g":"os","e":"Yb","v":0.25},{"s":"O1","g":"os","e":"V","v":0.00085},{"s":"O1","g":"os","e":"Cr","v":0.00114},{"s":"O1","g":"os","e":"Ni","v":0.0011},
{"s":"S1","g":"fs","e":"Rb","v":90},{"s":"S1","g":"fs","e":"Ba","v":48},{"s":"S1","g":"fs","e":"Th","v":116},{"s":"S1","g":"fs","e":"Nb","v":7},{"s":"S1","g":"fs","e":"La","v":34},{"s":"S1","g":"fs","e":"Ce","v":27},{"s":"S1","g":"fs","e":"Sr","v":4.5},{"s":"S1","g":"fs","e":"Nd","v":11.5},{"s":"S1","g":"fs","e":"Zr","v":7},{"s":"S1","g":"fs","e":"Sm","v":6},{"s":"S1","g":"fs","e":"Eu","v":3.3},{"s":"S1","g":"fs","e":"Gd","v":8},{"s":"S1","g":"fs","e":"Ti","v":0.5},{"s":"S1","g":"fs","e":"Dy","v":2.5},{"s":"S1","g":"fs","e":"Y","v":2.4},{"s":"S1","g":"fs","e":"Er","v":2.4},{"s":"S1","g":"fs","e":"Yb","v":2.8},{"s":"S1","g":"fs","e":"V","v":2.9},{"s":"S1","g":"fs","e":"Cr","v":0.0143},{"s":"S1","g":"fs","e":"Ni","v":0.0044},
{"s":"S2","g":"fs","e":"Rb","v":85},{"s":"S2","g":"fs","e":"Ba","v":46},{"s":"S2","g":"fs","e":"Th","v":105},{"s":"S2","g":"fs","e":"Nb","v":6.5},{"s":"S2","g":"fs","e":"La","v":31},{"s":"S2","g":"fs","e":"Ce","v":25},{"s":"S2","g":"fs","e":"Sr","v":4},{"s":"S2","g":"fs","e":"Nd","v":9},{"s":"S2","g":"fs","e":"Zr","v":6},{"s":"S2","g":"fs","e":"Sm","v":5},{"s":"S2","g":"fs","e":"Eu","v":3},{"s":"S2","g":"fs","e":"Gd","v":5},{"s":"S2","g":"fs","e":"Ti","v":0.55},{"s":"S2","g":"fs","e":"Dy","v":2.2},{"s":"S2","g":"fs","e":"Y","v":2.2},{"s":"S2","g":"fs","e":"Er","v":2.2},{"s":"S2","g":"fs","e":"Yb","v":2.4},{"s":"S2","g":"fs","e":"V","v":2.7},{"s":"S2","g":"fs","e":"Cr","v":0.013},{"s":"S2","g":"fs","e":"Ni","v":0.0047},
{"s":"D1","g":"dm","e":"Rb","v":2.2},{"s":"D1","g":"dm","e":"Ba","v":19},{"s":"D1","g":"dm","e":"Th","v":75},{"s":"D1","g":"dm","e":"Nb","v":2.9},{"s":"D1","g":"dm","e":"La","v":13.5},{"s":"D1","g":"dm","e":"Ce","v":9.7},{"s":"D1","g":"dm","e":"Sr","v":5},{"s":"D1","g":"dm","e":"Nd","v":7},{"s":"D1","g":"dm","e":"Zr","v":13},{"s":"D1","g":"dm","e":"Sm","v":3.6},{"s":"D1","g":"dm","e":"Eu","v":3.4},{"s":"D1","g":"dm","e":"Gd","v":3.4},{"s":"D1","g":"dm","e":"Ti","v":1.07},{"s":"D1","g":"dm","e":"Dy","v":1.9},{"s":"D1","g":"dm","e":"Y","v":1.7},{"s":"D1","g":"dm","e":"Er","v":1.8},{"s":"D1","g":"dm","e":"Yb","v":1.7},{"s":"D1","g":"dm","e":"V","v":0.33},{"s":"D1","g":"dm","e":"Cr","v":0.0143},{"s":"D1","g":"dm","e":"Ni","v":0.0087},
{"s":"D2","g":"dm","e":"Rb","v":1.07},{"s":"D2","g":"dm","e":"Ba","v":18},{"s":"D2","g":"dm","e":"Th","v":46},{"s":"D2","g":"dm","e":"Nb","v":2.4},{"s":"D2","g":"dm","e":"La","v":9},{"s":"D2","g":"dm","e":"Ce","v":9},{"s":"D2","g":"dm","e":"Sr","v":4.5},{"s":"D2","g":"dm","e":"Nd","v":5.5},{"s":"D2","g":"dm","e":"Zr","v":11},{"s":"D2","g":"dm","e":"Sm","v":3.0},{"s":"D2","g":"dm","e":"Eu","v":2.3},{"s":"D2","g":"dm","e":"Gd","v":2.2},{"s":"D2","g":"dm","e":"Ti","v":1.0},{"s":"D2","g":"dm","e":"Dy","v":0.84},{"s":"D2","g":"dm","e":"Y","v":0.58},{"s":"D2","g":"dm","e":"Er","v":0.66},{"s":"D2","g":"dm","e":"Yb","v":0.6},{"s":"D2","g":"dm","e":"V","v":0.31},{"s":"D2","g":"dm","e":"Cr","v":0.0135},{"s":"D2","g":"dm","e":"Ni","v":0.009}
]
},
"bounds": "flush",
"columns": 2,
"spacing": {"row": 64, "column": 127},
"concat": [
{
"width": 461, "height": 327,
"data": {"name": "tl"},
"encoding": {
  "x": {"field": "e", "type": "nominal", "scale": {"type": "point", "domain": ["La","Ce","Pr","Nd","Sm","Eu","Gd","Tb","Dy","Ho","Er","Tm","Yb","Lu"], "padding": 0.54}, "axis": {"title": null, "labelAngle": 0, "labelPadding": 21, "labelFontSize": 20, "tickSize": -6}},
  "y": {"field": "v", "type": "quantitative", "scale": {"type": "log", "domain": [0.3, 1000], "nice": false}, "axis": {"title": "порода/хондрит", "titleFontSize": 23, "titlePadding": 4, "labelFontSize": 20, "labelPadding": 16, "tickSize": -5, "values": [0.3,0.6,0.9,1.2,1.5,1.8,2.1,2.4,2.7,3,6,9,12,15,18,21,24,27,30,60,90,120,150,180,210,240,270,300,600,900], "labelExpr": "indexof([0.3,3,30,300], datum.value) >= 0 ? replace(format(datum.value, '~g'), '.', ',') : ''", "grid": true, "gridColor": "#b8b8b8", "gridDash": [4,4], "gridOpacity": {"condition": {"test": "indexof([3,30,300], datum.value) >= 0", "value": 1}, "value": 0}}}
},
"layer": [
  {"mark": {"type": "line", "strokeWidth": 1.6, "opacity": 0.8},
   "encoding": {"detail": {"field": "s", "type": "nominal"}, "order": {"value": null},
     "color": {"field": "g", "type": "nominal", "legend": null, "scale": {"domain": ["sq","ci","pk","br","ro"], "range": ["#7461BC","#8272C4","#AEB4BE","#4D4D4D","#D0504A"]}}}},
  {"mark": {"type": "point", "filled": true, "opacity": 1},
   "encoding": {
     "shape": {"field": "g", "type": "nominal", "legend": null, "scale": {"domain": ["sq","ci","pk","br","ro"], "range": ["square","circle","circle","circle","circle"]}},
     "fill": {"field": "g", "type": "nominal", "legend": null, "scale": {"domain": ["sq","ci","pk","br","ro"], "range": ["#6244AA","#7253B8","#E5479F","#4A0E0E","#FFFFFF"]}},
     "stroke": {"field": "g", "type": "nominal", "legend": null, "scale": {"domain": ["sq","ci","pk","br","ro"], "range": ["#4E3590","#5E44A0","#D03A90","#3A0808","#E52A1E"]}},
     "size": {"field": "g", "type": "nominal", "legend": null, "scale": {"type": "ordinal", "domain": ["sq","ci","pk","br","ro"], "range": [200,165,160,180,150]}},
     "strokeWidth": {"field": "g", "type": "nominal", "legend": null, "scale": {"type": "ordinal", "domain": ["sq","ci","pk","br","ro"], "range": [1,1,1,1,2.6]}}
   }}
]
},
{
"width": 575, "height": 327,
"data": {"name": "tr"},
"encoding": {
  "x": {"field": "e", "type": "nominal", "scale": {"type": "point", "domain": ["Rb","Ba","Th","Nb","La","Ce","Sr","Nd","Zr","Sm","Eu","Gd","Ti","Dy","Y","Er","Yb","V","Cr","Ni"], "range": [13.7, 567], "padding": 0}, "axis": {"title": null, "labelAngle": 0, "labelPadding": 21, "labelFontSize": 20, "tickSize": -6}},
  "y": {"field": "v", "type": "quantitative", "scale": {"type": "log", "domain": [0.001, 1000], "nice": false}, "axis": {"title": "порода/ПМ", "titleFontSize": 23, "titlePadding": 4, "labelFontSize": 20, "labelPadding": 16, "tickSize": -5, "values": [0.001,0.01,0.1,1,10,100,1000], "labelExpr": "replace(format(datum.value, '~g'), '.', ',')", "grid": true, "gridColor": "#a8a8a8", "gridDash": [2,4]}}
},
"layer": [
  {"mark": {"type": "line", "strokeWidth": 1.6, "opacity": 0.8},
   "encoding": {"detail": {"field": "s", "type": "nominal"}, "order": {"value": null},
     "color": {"field": "g", "type": "nominal", "legend": null, "scale": {"domain": ["sq","ci","pk","br","ro"], "range": ["#7461BC","#8272C4","#AEB4BE","#4D4D4D","#D0504A"]}}}},
  {"mark": {"type": "point", "filled": true, "opacity": 1},
   "encoding": {
     "shape": {"field": "g", "type": "nominal", "legend": null, "scale": {"domain": ["sq","ci","pk","br","ro"], "range": ["square","circle","circle","circle","circle"]}},
     "fill": {"field": "g", "type": "nominal", "legend": null, "scale": {"domain": ["sq","ci","pk","br","ro"], "range": ["#6244AA","#7253B8","#E5479F","#4A0E0E","#FFFFFF"]}},
     "stroke": {"field": "g", "type": "nominal", "legend": null, "scale": {"domain": ["sq","ci","pk","br","ro"], "range": ["#4E3590","#5E44A0","#D03A90","#3A0808","#E52A1E"]}},
     "size": {"field": "g", "type": "nominal", "legend": null, "scale": {"type": "ordinal", "domain": ["sq","ci","pk","br","ro"], "range": [170,150,140,160,130]}},
     "strokeWidth": {"field": "g", "type": "nominal", "legend": null, "scale": {"type": "ordinal", "domain": ["sq","ci","pk","br","ro"], "range": [1,1,1,1,2.3]}}
   }}
]
},
{
"width": 461, "height": 326,
"data": {"name": "bl"},
"encoding": {
  "x": {"field": "e", "type": "nominal", "scale": {"type": "point", "domain": ["La","Ce","Pr","Nd","Sm","Eu","Gd","Tb","Dy","Ho","Er","Tm","Yb","Lu"], "padding": 0.54}, "axis": {"title": null, "labelAngle": 0, "labelPadding": 21, "labelFontSize": 20, "tickSize": -6}},
  "y": {"field": "v", "type": "quantitative", "scale": {"type": "log", "domain": [0.3, 1000], "nice": false}, "axis": {"title": "порода/хондрит", "titleFontSize": 23, "titlePadding": 4, "labelFontSize": 20, "labelPadding": 16, "tickSize": -5, "values": [0.3,0.6,0.9,1.2,1.5,1.8,2.1,2.4,2.7,3,6,9,12,15,18,21,24,27,30,60,90,120,150,180,210,240,270,300,600,900], "labelExpr": "indexof([0.3,3,30,300], datum.value) >= 0 ? replace(format(datum.value, '~g'), '.', ',') : ''", "grid": true, "gridColor": "#b8b8b8", "gridDash": [4,4], "gridOpacity": {"condition": {"test": "indexof([3,30,300], datum.value) >= 0", "value": 1}, "value": 0}}}
},
"layer": [
  {"mark": {"type": "line", "strokeWidth": 1.8, "opacity": 0.9},
   "encoding": {"detail": {"field": "s", "type": "nominal"}, "order": {"value": null},
     "color": {"field": "g", "type": "nominal", "legend": null, "scale": {"domain": ["os","fs","dm"], "range": ["#C82828","#C81E1E","#9E7484"]}}}},
  {"mark": {"type": "point", "filled": true, "opacity": 1},
   "encoding": {
     "shape": {"field": "g", "type": "nominal", "legend": null, "scale": {"domain": ["os","fs","dm"], "range": ["square","square","diamond"]}},
     "fill": {"field": "g", "type": "nominal", "legend": null, "scale": {"domain": ["os","fs","dm"], "range": ["#FFFFFF","#E8221C","#F39563"]}},
     "stroke": {"field": "g", "type": "nominal", "legend": null, "scale": {"domain": ["os","fs","dm"], "range": ["#D02525","#A01010","#C8683C"]}},
     "size": {"field": "g", "type": "nominal", "legend": null, "scale": {"type": "ordinal", "domain": ["os","fs","dm"], "range": [180,205,290]}},
     "strokeWidth": {"field": "g", "type": "nominal", "legend": null, "scale": {"type": "ordinal", "domain": ["os","fs","dm"], "range": [2,1,1]}}
   }}
]
},
{
"width": 575, "height": 327,
"data": {"name": "br"},
"encoding": {
  "x": {"field": "e", "type": "nominal", "scale": {"type": "point", "domain": ["Rb","Ba","Th","Nb","La","Ce","Sr","Nd","Zr","Sm","Eu","Gd","Ti","Dy","Y","Er","Yb","V","Cr","Ni"], "range": [13.7, 567], "padding": 0}, "axis": {"title": null, "labelAngle": 0, "labelPadding": 21, "labelFontSize": 20, "tickSize": -6}},
  "y": {"field": "v", "type": "quantitative", "scale": {"type": "log", "domain": [0.0001, 1000], "nice": false}, "axis": {"title": "порода/ПМ", "titleFontSize": 23, "titlePadding": 4, "labelFontSize": 20, "labelPadding": 16, "tickSize": -5, "values": [0.0001,0.001,0.01,0.1,1,10,100,1000], "labelExpr": "replace(format(datum.value, '~g'), '.', ',')", "grid": true, "gridColor": "#a8a8a8", "gridDash": [2,4]}}
},
"layer": [
  {"mark": {"type": "line", "strokeWidth": 1.5, "opacity": 0.9},
   "encoding": {"detail": {"field": "s", "type": "nominal"}, "order": {"value": null},
     "color": {"field": "g", "type": "nominal", "legend": null, "scale": {"domain": ["os","fs","dm"], "range": ["#E0606E","#C81E1E","#9E7484"]}}}},
  {"mark": {"type": "point", "filled": true, "opacity": 1},
   "encoding": {
     "shape": {"field": "g", "type": "nominal", "legend": null, "scale": {"domain": ["os","fs","dm"], "range": ["square","square","diamond"]}},
     "fill": {"field": "g", "type": "nominal", "legend": null, "scale": {"domain": ["os","fs","dm"], "range": ["#FFFFFF","#E8221C","#F39563"]}},
     "stroke": {"field": "g", "type": "nominal", "legend": null, "scale": {"domain": ["os","fs","dm"], "range": ["#C82030","#A01010","#C8683C"]}},
     "size": {"field": "g", "type": "nominal", "legend": null, "scale": {"type": "ordinal", "domain": ["os","fs","dm"], "range": [155,180,240]}},
     "strokeWidth": {"field": "g", "type": "nominal", "legend": null, "scale": {"type": "ordinal", "domain": ["os","fs","dm"], "range": [2,1,1]}}
   }}
]
}
]
}
